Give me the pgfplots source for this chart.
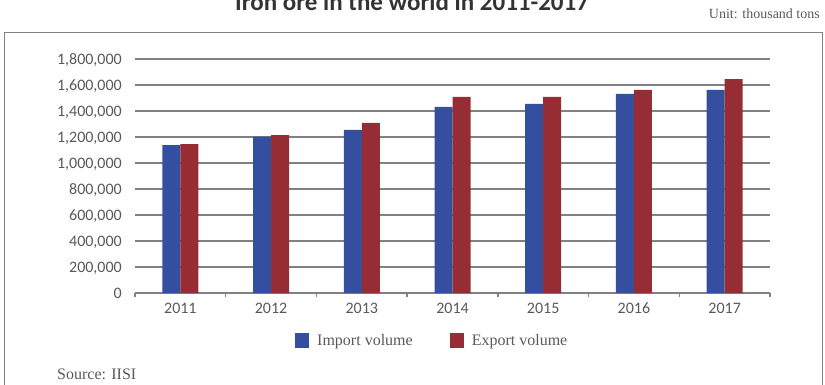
\documentclass[border=0pt]{standalone}
\usepackage{fontspec}
\setmainfont{Liberation Serif}
\newfontfamily\carlito{Carlito}
\usepackage{pgfplots}
\pgfplotsset{compat=1.18}
\definecolor{barblue}{HTML}{344FA0}
\definecolor{barred}{HTML}{962C34}
\definecolor{gridgray}{HTML}{808080}
\definecolor{labgray}{HTML}{595959}
\begin{document}
\begin{tikzpicture}[x=1pt,y=1pt]
\useasboundingbox (0,0) rectangle (825,384);
\clip (0,0) rectangle (825,384);
\draw[gridgray, line width=1pt] (4,-10) rectangle (822,352);
\node[anchor=base, font=\carlito\bfseries\fontsize{25}{30}\selectfont, text=black!80, inner sep=0pt] at (412,373.5) {Iron ore in the world in 2011-2017};
\node[anchor=base east, font=\fontsize{14}{17}\selectfont, text=labgray, inner sep=0pt] at (820,365) {Unit: thousand tons};
\node[anchor=base west, font=\fontsize{16}{19}\selectfont, text=labgray, inner sep=0pt] at (57,5) {Source: IISI};
\begin{axis}[
  at={(135pt,91pt)}, anchor=south west,
  scale only axis, width=635pt, height=234pt,
  ybar=0pt, bar width=18pt,
  xmin=-0.5, xmax=6.5, ymin=0, ymax=1800000,
  axis lines*=left,
  y axis line style={draw=none},
  x axis line style={draw=gridgray, line width=1.5pt},
  ymajorgrids, grid style={draw=gridgray, line width=1.5pt},
  ytick={0,200000,400000,600000,800000,1000000,1200000,1400000,1600000,1800000},
  scaled y ticks=false,
  /pgf/number format/assume math mode=true,
  yticklabel style={/pgf/number format/fixed, /pgf/number format/1000 sep={{,}}},
  xtick={0,1,2,3,4,5,6},
  xticklabels={2011,2012,2013,2014,2015,2016,2017},
  minor xtick={-0.5,0.5,1.5,2.5,3.5,4.5,5.5,6.5},
  major tick length=0pt, minor tick length=4pt, tick align=outside,
  tick style={draw=gridgray, line width=1.5pt},
  tick label style={font=\carlito\fontsize{16}{19}\selectfont, text=labgray},
  x tick label style={anchor=north, inner sep=0pt, yshift=-10pt, text height=10.2pt, text depth=0pt},
  y tick label style={anchor=east, inner sep=0pt, xshift=-13pt, text height=10.2pt, text depth=0pt},
  legend columns=2,
  legend style={at={(axis description cs:0.252,-0.203)}, anchor=west, draw=none, fill=none,
    inner sep=0pt, nodes={inner sep=0pt}, font=\fontsize{16}{19}\selectfont, text=labgray,
    /tikz/every odd column/.append style={column sep=8pt},
    /tikz/every even column/.append style={column sep=37pt}},
  legend image code/.code={\fill[#1,draw=none] (0pt,-7.5pt) rectangle (14pt,7.5pt);},
]
\addplot[fill=barblue, draw=none] coordinates {(0,1138000) (1,1202000) (2,1254000) (3,1431000) (4,1454000) (5,1531000) (6,1562000)};
\addplot[fill=barred, draw=none] coordinates {(0,1146000) (1,1215000) (2,1308000) (3,1508000) (4,1508000) (5,1562000) (6,1646000)};
\legend{Import volume, Export volume}
\end{axis}
\end{tikzpicture}
\end{document}
